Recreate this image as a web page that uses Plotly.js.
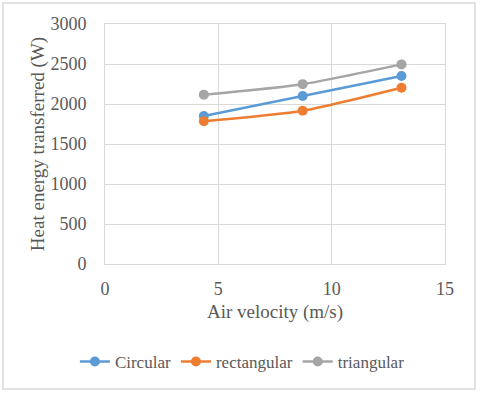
<!DOCTYPE html>
<html>
<head>
<meta charset="utf-8">
<script src="https://cdn.plot.ly/plotly-3.0.1.min.js"></script>
<style>
html,body{margin:0;padding:0;background:#fff;}
#chart{width:480px;height:393px;}
</style>
</head>
<body>
<div id="chart"></div>
<script>
const velocity = [4.36, 8.72, 13.08];
const circular = [1850, 2100, 2350];
const rectangular = [1784, 1915, 2203];
const triangular = [2117, 2248, 2495];
const seriesNames = ["Circular", "rectangular", "triangular"];
const seriesColors = ["#5B9BD5", "#ED7D31", "#A5A5A5"];
const seriesValues = [circular, rectangular, triangular];

const traces = seriesValues.map((vals, i) => ({
  x: velocity,
  y: vals,
  name: seriesNames[i],
  type: "scatter",
  mode: "lines+markers",
  line: {color: seriesColors[i], width: 2.5, shape: "spline", smoothing: 0.6},
  marker: {color: seriesColors[i], size: 10}
}));

const FAM = "Liberation Serif";
const TXT = "#595959";

const layout = {
  width: 480, height: 393,
  margin: {l: 105, r: 35, t: 24, b: 129},
  paper_bgcolor: "#ffffff",
  plot_bgcolor: "#ffffff",
  font: {family: FAM, color: TXT, size: 17},
  showlegend: true,
  legend: {
    orientation: "h",
    xref: "container", yref: "container",
    x: 0.505, xanchor: "center", y: 0.079, yanchor: "middle",
    font: {family: FAM, color: TXT, size: 17},
    itemwidth: 30, tracegroupgap: 0
  },
  xaxis: {
    range: [0, 15], dtick: 5, tick0: 0,
    showgrid: true, gridcolor: "#d9d9d9", gridwidth: 1,
    showline: true, linecolor: "#d9d9d9", linewidth: 1, mirror: true,
    zeroline: false,
    ticks: "outside", ticklen: 8, tickcolor: "rgba(0,0,0,0)",
    tickfont: {family: FAM, color: TXT, size: 18},
    title: {text: "Air velocity (m/s)", font: {family: FAM, color: TXT, size: 19}, standoff: 7}
  },
  yaxis: {
    range: [0, 3000], dtick: 500, tick0: 0,
    showgrid: true, gridcolor: "#d9d9d9", gridwidth: 1,
    showline: true, linecolor: "#d9d9d9", linewidth: 1, mirror: true,
    zeroline: false,
    ticks: "outside", ticklen: 14, tickcolor: "rgba(0,0,0,0)",
    tickfont: {family: FAM, color: TXT, size: 18},
    title: {text: "Heat energy transferred (W)", font: {family: FAM, color: TXT, size: 19}, standoff: 0}
  },
  shapes: [{
    type: "rect", xref: "paper", yref: "paper",
    x0: -0.3, x1: 1.0882, y0: -0.5208, y1: 1.0875,
    line: {color: "#d9d9d9", width: 1.5}, fillcolor: "rgba(0,0,0,0)", layer: "below"
  }]
};

Plotly.newPlot("chart", traces, layout, {displayModeBar: false, staticPlot: true});
</script>
</body>
</html>
